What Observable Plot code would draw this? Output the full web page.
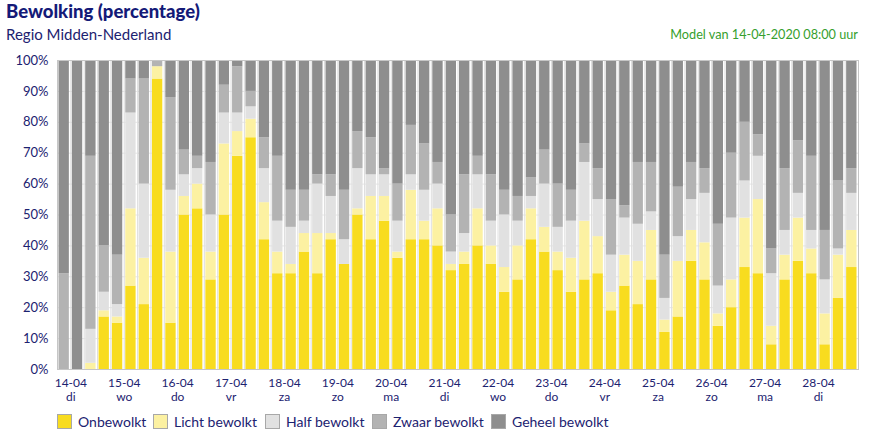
<!DOCTYPE html>
<html>
<head>
<meta charset="utf-8">
<script src="https://cdn.jsdelivr.net/npm/d3@7"></script>
<script src="https://cdn.jsdelivr.net/npm/@observablehq/plot@0.6"></script>
<style>
  html, body { margin: 0; padding: 0; background: #fff; }
  #wrap { position: relative; width: 882px; height: 438px; font-family: Lato, "Open Sans", sans-serif; }
  #title { position: absolute; left: 6px; top: 1px; font-size: 18.5px; line-height: 21px; font-weight: 900; color: #141a78; }
  #subtitle { position: absolute; left: 6px; top: 25px; font-size: 15px; line-height: 18px; color: #1c2270; }
  #model { position: absolute; right: 24px; top: 26px; font-size: 12.7px; line-height: 16px; color: #36a02e; }
  #chart { position: absolute; left: 0; top: 44px; }
  #legend { position: absolute; left: 0; top: 412px; width: 882px; height: 18px; }
  .item { position: absolute; top: 0; display: flex; align-items: center; height: 18px; font-size: 14px; color: #1c2270; }
  .sw { width: 13px; height: 13px; border: 1px solid #a8a8a8; margin-right: 6px; }
</style>
</head>
<body>
<div id="wrap">
  <div id="title">Bewolking (percentage)</div>
  <div id="subtitle">Regio Midden-Nederland</div>
  <div id="model">Model van 14-04-2020 08:00 uur</div>
  <div id="chart"></div>
  <div id="legend"></div>
</div>
<script>
const categories = ["Onbewolkt", "Licht bewolkt", "Half bewolkt", "Zwaar bewolkt", "Geheel bewolkt"];
const colors = ["#f8dc1f", "#fcf1a2", "#e1e1e1", "#b3b3b3", "#8e8e8e"];

const dayLabels = ["14-04","15-04","16-04","17-04","18-04","19-04","20-04","21-04","22-04","23-04","24-04","25-04","26-04","27-04","28-04"];
const dayNames  = ["di","wo","do","vr","za","zo","ma","di","wo","do","vr","za","zo","ma","di"];
const yTicks = [0,10,20,30,40,50,60,70,80,90,100];

// percentage per 6-hour block (14-04 06:00 .. 29-04 06:00)
const onbewolkt = [0,0,0,17,15,27,21,94,15,50, 52,29,50,69,75,42,31,31,38,31, 42,34,50,42,48,36,42,42,40,32, 34,40,34,25,29,42,38,32,25,29, 31,19,27,21,29,12,17,35,29,14, 20,33,31,8,29,35,31,8,23,33];
const licht     = [0,0,2,2,2,25,15,4,23,6, 8,9,23,8,6,12,7,3,6,13, 2,0,2,14,8,2,16,6,12,2, 4,12,6,8,11,10,8,6,11,19, 12,6,10,14,16,4,18,10,12,4, 9,16,24,6,8,14,8,10,14,12];
const half      = [0,0,11,6,4,31,24,0,20,7, 5,12,10,6,4,11,10,12,4,16, 12,8,13,7,7,10,5,10,8,4, 6,11,8,17,8,4,14,8,12,19, 12,12,12,12,6,7,8,10,16,9, 20,12,14,17,8,8,6,11,2,12];
const zwaar     = [31,0,56,15,16,11,34,2,30,8, 4,17,9,15,5,10,21,12,10,3, 7,16,12,12,2,12,16,15,7,12, 19,6,15,8,8,6,11,14,10,6, 10,18,4,20,16,14,16,12,8,20, 21,19,7,8,20,17,24,16,22,8];
const geheel    = [69,100,31,60,63,6,6,0,12,29, 31,33,8,2,10,25,31,42,42,37, 37,42,23,25,35,40,21,27,33,50, 37,31,37,42,44,38,29,40,42,27, 35,45,47,33,33,63,41,33,35,53, 30,20,24,61,35,26,31,55,39,35];

const series = [onbewolkt, licht, half, zwaar, geheel];
const start = new Date(Date.UTC(2020, 3, 14, 6));
const end = new Date(Date.UTC(2020, 3, 29, 6));
const periods = d3.utcHour.every(6).range(start, end);
const rows = [];
periods.forEach((t, i) => {
  series.forEach((s, k) => rows.push({t0: t, t1: d3.utcHour.offset(t, 6), cat: categories[k], value: s[i]}));
});
const noonTicks = d3.utcDay.range(new Date(Date.UTC(2020,3,14)), new Date(Date.UTC(2020,3,29))).map(d => d3.utcHour.offset(d, 12));
const navy = "#1c2270";

const chart = Plot.plot({
  width: 882,
  height: 366,
  marginTop: 16,
  marginBottom: 41,
  marginLeft: 57,
  marginRight: 24,
  style: {fontFamily: "Lato, 'Open Sans', sans-serif", fontSize: "13px", color: navy, background: "white"},
  x: {type: "utc", domain: [start, end], label: null},
  y: {domain: [0, 100], label: null},
  color: {domain: categories, range: colors},
  marks: [
    Plot.gridY(yTicks, {stroke: "#e6e6e6", strokeOpacity: 1}),
    Plot.ruleX(periods.slice(1), {stroke: "#dedede"}),
    Plot.rectY(rows, {x1: "t0", x2: "t1", y: "value", fill: "cat", order: categories, insetLeft: 1.5, insetRight: 1.5}),
    Plot.frame({stroke: "#c6c6c6"}),
    Plot.axisY(yTicks, {tickSize: 0, tickPadding: 9, label: null, tickFormat: d => d + "%", fill: navy}),
    Plot.axisX(noonTicks, {
      tickSize: 0, tickPadding: 7, label: null, fill: navy, fontSize: 12, lineHeight: 1.2,
      tickFormat: d => { const i = noonTicks.findIndex(n => +n === +d); return dayLabels[i] + "\n" + dayNames[i]; }
    })
  ]
});
document.getElementById("chart").appendChild(chart);

const legendX = [57, 153, 265, 372, 491];
const legend = document.getElementById("legend");
categories.forEach((c, i) => {
  const it = document.createElement("div");
  it.className = "item";
  it.style.left = legendX[i] + "px";
  const sw = document.createElement("div");
  sw.className = "sw";
  sw.style.background = colors[i];
  const tx = document.createElement("span");
  tx.textContent = c;
  it.appendChild(sw); it.appendChild(tx);
  legend.appendChild(it);
});
</script>
</body>
</html>
